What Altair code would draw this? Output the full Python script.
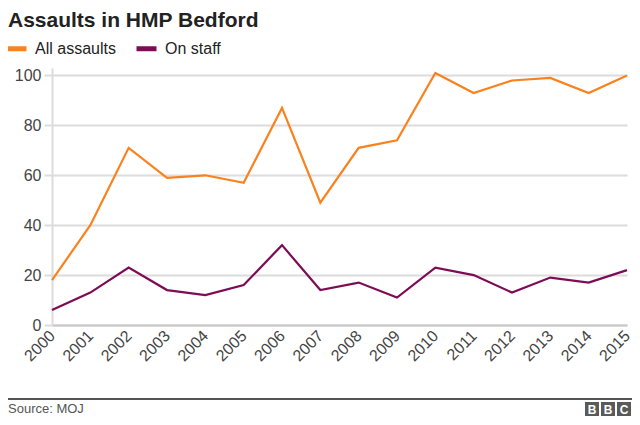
import altair as alt
import pandas as pd

years = [str(y) for y in range(2000, 2016)]
all_assaults = [18, 40, 71, 59, 60, 57, 87, 49, 71, 74, 101, 93, 98, 99, 93, 100]
on_staff = [6, 13, 23, 14, 12, 16, 32, 14, 17, 11, 23, 20, 13, 19, 17, 22]
series = ["All assaults", "On staff"]
colors = ["#F9821E", "#7D0C55"]
y_ticks = [0, 20, 40, 60, 80, 100]
title_text = "Assaults in HMP Bedford"
source_text = "Source: MOJ"

df = pd.DataFrame({
    "year": years * 2,
    "value": all_assaults + on_staff,
    "series": [series[0]] * len(years) + [series[1]] * len(years),
})

FONT = "Liberation Sans"

lines = alt.Chart(df).mark_line(strokeWidth=2.2).encode(
    x=alt.X("year:O", title=None,
            scale=alt.Scale(type="point", padding=0),
            axis=alt.Axis(labelAngle=-45, labelAlign="right", labelBaseline="middle",
                          labelFontSize=16, labelColor="#444", labelPadding=8,
                          ticks=False, domainColor="#c8c8c8", domainWidth=2,
                          grid=False)),
    y=alt.Y("value:Q", title=None,
            scale=alt.Scale(domain=[0, 103], nice=False, zero=True),
            axis=alt.Axis(values=y_ticks, labelFontSize=16, labelColor="#444",
                          labelPadding=3, tickSize=8, tickColor="#dcdcdc", tickWidth=2,
                          gridColor="#dcdcdc", gridWidth=2, domainColor="#dcdcdc",
                          domainWidth=2)),
    color=alt.Color("series:N", sort=series,
                    scale=alt.Scale(domain=series, range=colors),
                    legend=alt.Legend(title=None, orient="none", legendX=-48, legendY=-32,
                                      direction="horizontal", symbolType="stroke",
                                      symbolStrokeWidth=5, symbolSize=400,
                                      labelFontSize=16, labelColor="#222",
                                      labelOffset=6, columnPadding=10, padding=0,
                                      labelFont=FONT)),
)

title = alt.Chart().mark_text(text=title_text, align="left", baseline="alphabetic",
                              fontSize=21, fontWeight="bold", color="#222",
                              font=FONT).encode(
    x=alt.value(-44), y=alt.value(-41))

footer_rule = alt.Chart().mark_rule(color="#555", strokeWidth=2).encode(
    x=alt.value(-44), x2=alt.value(580), y=alt.value(331))

source = alt.Chart().mark_text(text=source_text, align="left", baseline="alphabetic",
                               fontSize=13, color="#555", font=FONT).encode(
    x=alt.value(-44), y=alt.value(345))

logo_boxes = []
for i, letter in enumerate(["B", "B", "C"]):
    x0 = 533 + i * 16
    logo_boxes.append(alt.Chart().mark_rect(color="#5a5a5a").encode(
        x=alt.value(x0), x2=alt.value(x0 + 14), y=alt.value(334), y2=alt.value(348)))
    logo_boxes.append(alt.Chart().mark_text(text=letter, fontSize=12, fontWeight="bold",
                                            color="white", font=FONT,
                                            baseline="middle", align="center").encode(
        x=alt.value(x0 + 7), y=alt.value(341.5)))

chart = alt.layer(lines, title, footer_rule, source, *logo_boxes).properties(
    width=575,
    height=257,
    padding={"left": 44, "top": 60, "right": 5, "bottom": 91},
    autosize=alt.AutoSizeParams(type="none"),
).configure_view(stroke=None).configure_axis(labelFont=FONT)

chart.save("out.html", embed_options={"renderer": "svg", "actions": False})
